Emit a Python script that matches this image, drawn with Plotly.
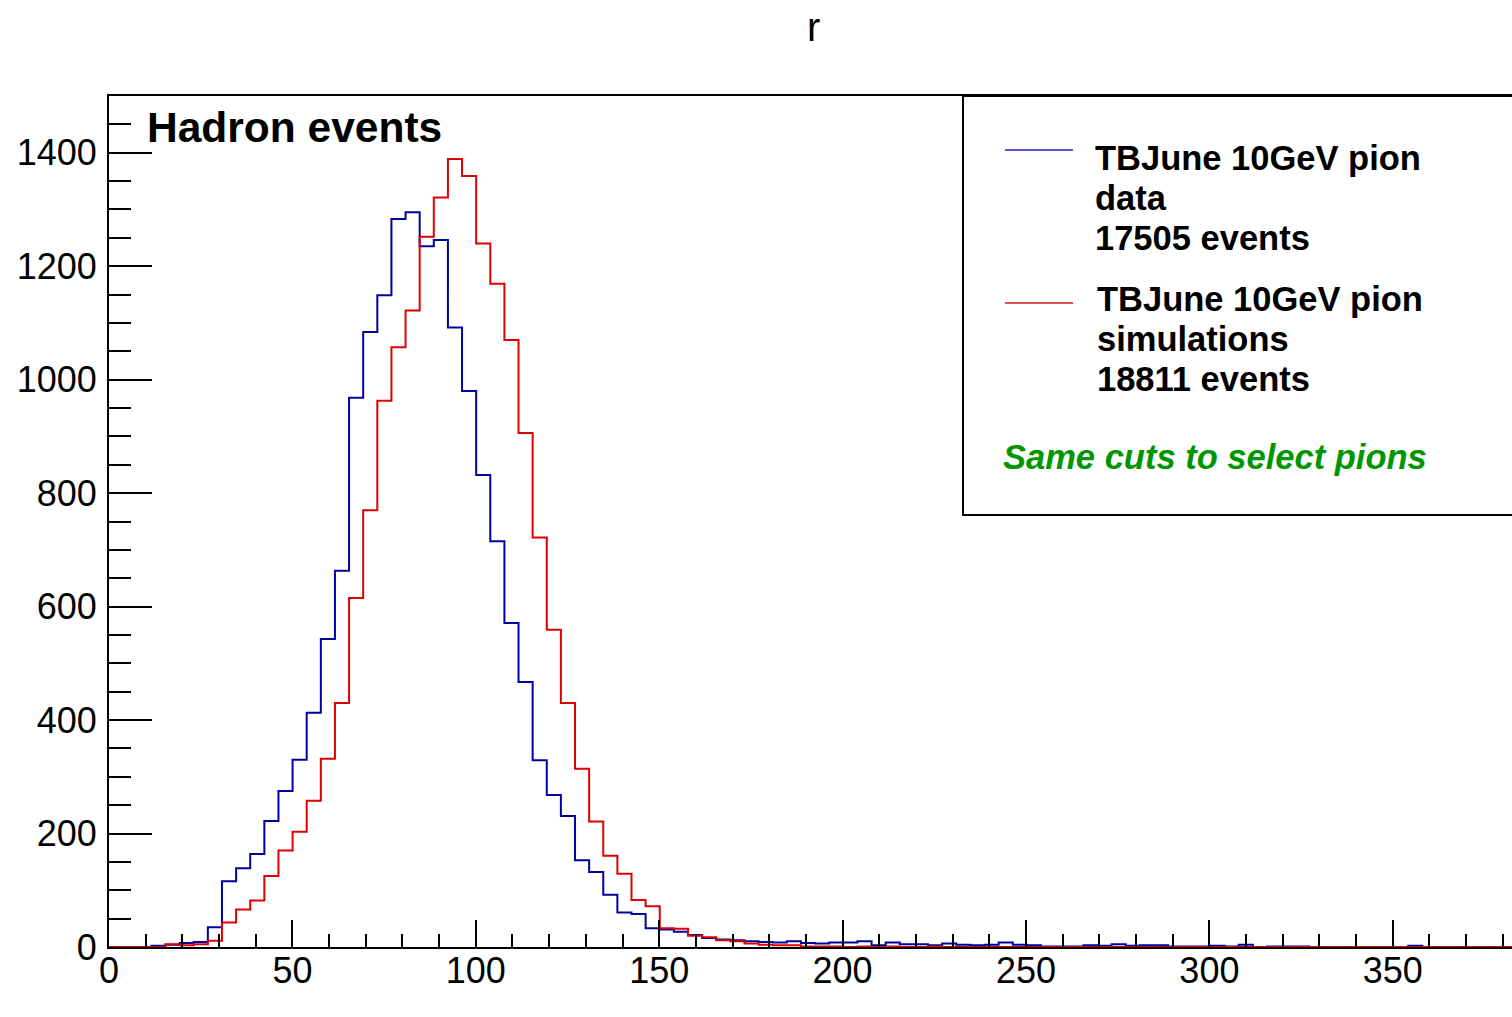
import numpy as np
import plotly.graph_objects as go

# histogram binning: 100 bins over [0, 385]
nBins = 100
xLow, xHigh = 0.0, 385.0

# TBJune 10GeV pion data (blue), bin contents
dataCounts = [
    0, 0, 0, 2, 4, 7, 9, 35, 116, 139,
    164, 222, 275, 330, 413, 543, 663, 968, 1084, 1149,
    1283, 1295, 1235, 1246, 1092, 980, 832, 715, 571, 467,
    329, 268, 231, 153, 132, 92, 61, 58, 33, 31,
    27, 21, 16, 13, 12, 10, 9, 8, 10, 7,
    6, 8, 8, 10, 3, 8, 5, 5, 3, 6,
    4, 3, 4, 8, 4, 3, 1, 1, 1, 3,
    2, 5, 2, 3, 3, 1, 1, 1, 2, 1,
    4, 0, 1, 1, 1, 0, 0, 0, 0, 0,
    0, 0, 2, 0, 0, 0, 0, 0, 0, 0,
]

# TBJune 10GeV pion simulations (red)
simCounts = [
    0, 0, 0, 0, 5, 3, 5, 11, 43, 66,
    82, 125, 170, 203, 258, 332, 430, 615, 770, 963,
    1057, 1122, 1252, 1321, 1389, 1359, 1240, 1169, 1070, 906,
    722, 559, 430, 314, 221, 161, 129, 83, 72, 33,
    32, 20, 17, 12, 10, 6, 4, 3, 3, 1,
    1, 1, 0, 1, 0, 1, 0, 0, 1, 0,
    0, 0, 0, 0, 0, 0, 0, 0, 0, 0,
    0, 0, 0, 0, 0, 0, 0, 0, 0, 0,
    0, 0, 0, 0, 0, 0, 0, 0, 0, 0,
    0, 0, 0, 0, 0, 0, 0, 0, 0, 0,
]

legendData = ["TBJune 10GeV pion", "data", "17505 events"]
legendSim = ["TBJune 10GeV pion", "simulations", "18811 events"]
cutsNote = "Same cuts to select pions"
plotTitle = "r"
padLabel = "Hadron events"

xRange = [0, 382.5]
yRange = [0, 1500]

FONT = "Liberation Sans, Arial, Helvetica, sans-serif"
BLUE = "#0000a0"
RED = "#dd0000"


def stepTrace(counts, color):
    # ROOT-like histogram outline drawn as a step line
    edges = np.linspace(xLow, xHigh, nBins + 1)
    x = list(edges)
    y = list(counts) + [counts[-1]]
    return go.Scatter(x=x, y=y, mode="lines", line=dict(color=color, width=2, shape="hv"),
                      showlegend=False, hoverinfo="skip")


fig = go.Figure()
fig.add_trace(stepTrace(dataCounts, BLUE))
fig.add_trace(stepTrace(simCounts, RED))

# canvas and frame position, in pixels
W, H = 1512, 1017
L, R, T, B = 109, 1512, 96, 947


def px(xp):
    return (xp - L) / (R - L)


def py(yp):
    return (B - yp) / (B - T)


annotations = []
shapes = []

# title
annotations.append(dict(text=plotTitle, x=px(813), y=py(27), xref="paper", yref="paper",
                        xanchor="center", yanchor="middle", showarrow=False,
                        font=dict(family=FONT, size=40, color="black")))

# pad label
annotations.append(dict(text="<b>" + padLabel + "</b>", x=px(145), y=py(128), xref="paper", yref="paper",
                        xanchor="left", yanchor="middle", showarrow=False,
                        font=dict(family=FONT, size=42.5, color="black")))

# legend box
shapes.append(dict(type="rect", xref="paper", yref="paper", x0=px(963), x1=1.02, y0=py(515), y1=py(96),
                   line=dict(color="black", width=2), fillcolor="white", layer="above"))

# legend lines
shapes.append(dict(type="line", xref="paper", yref="paper", x0=px(1005), x1=px(1073), y0=py(150), y1=py(150),
                   line=dict(color="#5858d0", width=2), layer="above"))
shapes.append(dict(type="line", xref="paper", yref="paper", x0=px(1005), x1=px(1073), y0=py(303), y1=py(303),
                   line=dict(color="#e05050", width=2), layer="above"))

# legend texts
for i, line in enumerate(legendData):
    annotations.append(dict(text="<b>" + line + "</b>", x=px(1093), y=py(158 + 40 * i), xref="paper", yref="paper",
                            xanchor="left", yanchor="middle", showarrow=False,
                            font=dict(family=FONT, size=34.5, color="black")))
for i, line in enumerate(legendSim):
    annotations.append(dict(text="<b>" + line + "</b>", x=px(1095), y=py(299 + 40 * i), xref="paper", yref="paper",
                            xanchor="left", yanchor="middle", showarrow=False,
                            font=dict(family=FONT, size=34.5, color="black")))
annotations.append(dict(text="<b><i>" + cutsNote + "</i></b>", x=px(1001), y=py(457), xref="paper", yref="paper",
                        xanchor="left", yanchor="middle", showarrow=False,
                        font=dict(family=FONT, size=34.5, color="#009600")))

fig.update_layout(
    width=W, height=H,
    margin=dict(l=L, r=W - R, t=T, b=H - B),
    paper_bgcolor="white", plot_bgcolor="white",
    showlegend=False,
    annotations=annotations, shapes=shapes,
    font=dict(family=FONT, color="black"),
)

fig.update_xaxes(range=xRange, showgrid=False, zeroline=False,
                 showline=True, linecolor="black", linewidth=2, mirror=True,
                 ticks="inside", ticklen=27, tickwidth=2, tickcolor="black",
                 tick0=0, dtick=50, tickfont=dict(family=FONT, size=36),
                 ticklabelstandoff=-9,
                 minor=dict(ticks="inside", ticklen=13, tickwidth=2, tickcolor="black", dtick=10, showgrid=False))
fig.update_yaxes(range=yRange, showgrid=False, zeroline=False,
                 showline=True, linecolor="black", linewidth=2, mirror=False,
                 ticks="inside", ticklen=43, tickwidth=2, tickcolor="black",
                 tick0=0, dtick=200, tickfont=dict(family=FONT, size=36),
                 ticklabelstandoff=3,
                 minor=dict(ticks="inside", ticklen=22, tickwidth=2, tickcolor="black", dtick=50, showgrid=False))

# drop the default page margin so the canvas sits at the window origin
fig.write_html("out.html", config={"displayModeBar": False},
               post_script="document.body.style.margin='0';")
